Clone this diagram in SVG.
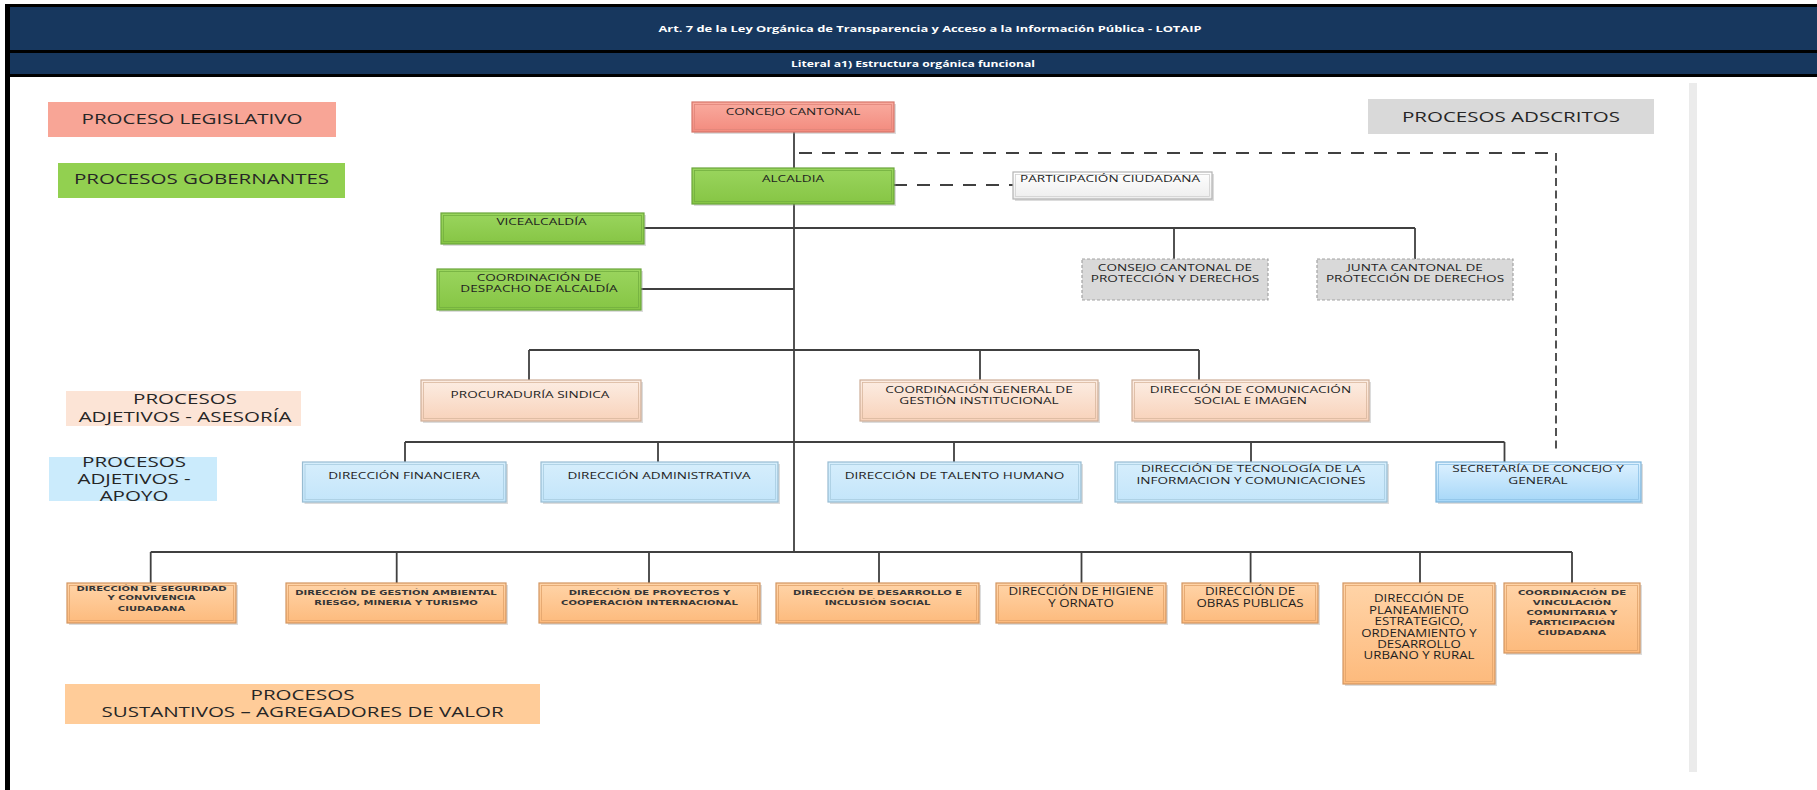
<svg xmlns="http://www.w3.org/2000/svg" width="1817" height="790" viewBox="0 0 1817 790">
<defs>
<linearGradient id="gS" x1="0" y1="0" x2="0" y2="1"><stop offset="0" stop-color="#F9AB9F"/><stop offset="1" stop-color="#F38B7E"/></linearGradient>
<linearGradient id="gG" x1="0" y1="0" x2="0" y2="1"><stop offset="0" stop-color="#9AD55E"/><stop offset="1" stop-color="#86C544"/></linearGradient>
<linearGradient id="gP" x1="0" y1="0" x2="0" y2="1"><stop offset="0" stop-color="#FCEDE3"/><stop offset="1" stop-color="#F8D2BA"/></linearGradient>
<linearGradient id="gB" x1="0" y1="0" x2="0" y2="1"><stop offset="0" stop-color="#D6EEFC"/><stop offset="1" stop-color="#C3E5FA"/></linearGradient>
<linearGradient id="gB2" x1="0" y1="0" x2="0" y2="1"><stop offset="0" stop-color="#DDF1FF"/><stop offset="1" stop-color="#A6D7F8"/></linearGradient>
<linearGradient id="gO" x1="0" y1="0" x2="0" y2="1"><stop offset="0" stop-color="#FFD4A8"/><stop offset="1" stop-color="#FDBA7C"/></linearGradient>
<linearGradient id="gW" x1="0" y1="0" x2="0" y2="1"><stop offset="0" stop-color="#FFFFFF"/><stop offset="1" stop-color="#EDEDED"/></linearGradient>
</defs>
<style>
.sh{fill:#9a9a9a;opacity:.35}
.o{stroke-width:1.2}
.i{fill:none;stroke-width:.8}
.s .o{fill:url(#gS);stroke:#D6766A}.s .i{stroke:#E0867A}
.gr .o{fill:url(#gG);stroke:#6AA53A}.gr .i{stroke:#73AE40}
.p .o{fill:url(#gP);stroke:#CDAE98}.p .i{stroke:#D9B79F}
.b .o{fill:url(#gB);stroke:#98BCD2}.b .i{stroke:#A9CCE0}
.b2 .o{fill:url(#gB2);stroke:#7DB4DA}.b2 .i{stroke:#8FC3E6}
.or .o{fill:url(#gO);stroke:#D29560}.or .i{stroke:#E2A36C}
.w .o{fill:url(#gW);stroke:#B3B3B3}.w .i{stroke:#D0D0D0}
.dg .o{fill:#D9D9D9;stroke:#A3A3A3;stroke-dasharray:3 2}
.t{font-family:"Open Sans","Liberation Sans",sans-serif;font-size:9.5px;fill:#1F1F1F;text-anchor:middle}
.tb{font-family:"Open Sans","Liberation Sans",sans-serif;font-size:10px;fill:#1F1F1F;text-anchor:middle}
.tv{font-family:"DejaVu Sans","Verdana",sans-serif;font-size:7px;font-weight:bold;fill:#363636;text-anchor:middle}
.tl{font-family:"Open Sans","Liberation Sans",sans-serif;font-size:14px;fill:#262626;text-anchor:middle}
.hd{font-family:"Open Sans","Liberation Sans",sans-serif;font-size:9.5px;font-weight:bold;fill:#FFFFFF;text-anchor:middle}
.ln{fill:none;stroke:#404040;stroke-width:1.8}
.dh{stroke-dasharray:13 10}
.dv{stroke-dasharray:8 4.5}
</style>
<rect x="0" y="0" width="1817" height="790" fill="#FFFFFF"/>
<g id="header">
<rect x="5" y="4" width="1812" height="73" fill="#000000"/>
<rect x="5" y="77" width="5" height="713" fill="#000000"/>
<rect x="10" y="7" width="1807" height="43" fill="#17375E"/>
<rect x="10" y="53" width="1807" height="21" fill="#17375E"/>
<text class="hd" x="930" y="31.5" textLength="543" lengthAdjust="spacingAndGlyphs">Art. 7 de la Ley Orgánica  de Transparencia y Acceso a la Información Pública - LOTAIP</text>
<text class="hd" x="913" y="66.5" textLength="244" lengthAdjust="spacingAndGlyphs">Literal a1) Estructura  orgánica funcional</text>
</g>
<rect id="side-bar" x="1689" y="83" width="8" height="689" fill="#EBEBEB"/>
<g id="legend">
<g id="lg-legislativo"><rect x="48" y="102" width="288" height="35" fill="#F8A596"/><g transform="matrix(1.467 0 0 1 192 0)"><text class="tl" y="124.3">PROCESO LEGISLATIVO</text></g></g>
<g id="lg-gobernantes"><rect x="58" y="163" width="287" height="35" fill="#92D050"/><g transform="matrix(1.467 0 0 1 201.5 0)"><text class="tl" y="184.3">PROCESOS GOBERNANTES</text></g></g>
<g id="lg-adscritos"><rect x="1368" y="99" width="286" height="35" fill="#D9D9D9"/><g transform="matrix(1.467 0 0 1 1511 0)"><text class="tl" y="122.5" fill="#333333">PROCESOS ADSCRITOS</text></g></g>
<g id="lg-asesoria"><rect x="66" y="391" width="235" height="35" fill="#FCE4D6"/><g transform="matrix(1.467 0 0 1 185 0)"><text class="tl" y="404">PROCESOS</text><text class="tl" y="422">ADJETIVOS - ASESORÍA</text></g></g>
<g id="lg-apoyo"><rect x="49" y="457" width="168" height="44" fill="#CBEBFC"/><g transform="matrix(1.467 0 0 1 134 0)"><text class="tl" y="467">PROCESOS</text><text class="tl" y="484.5">ADJETIVOS -</text><text class="tl" y="501.5">APOYO</text></g></g>
<g id="lg-sustantivos"><rect x="65" y="684" width="475" height="40" fill="#FFCC99"/><g transform="matrix(1.467 0 0 1 302.5 0)"><text class="tl" y="700">PROCESOS</text><text class="tl" y="717">SUSTANTIVOS – AGREGADORES DE VALOR</text></g></g>
</g>
<g id="connectors">
<path class="ln" d="M794 132V168M794 204V552"/>
<path class="ln" d="M644 228H1415M1174 228V259M1415 228V259"/>
<path class="ln" d="M641 289H794"/>
<path class="ln" d="M529 350H1199M529 350V380M980 350V380M1199 350V380"/>
<path class="ln" d="M405 442H1504.5M405 442V462M658 442V462M954 442V462M1251 442V462M1504.5 442V462"/>
<path class="ln" d="M150.7 552H1572M150.7 552V583M396.7 552V583M649 552V583M879 552V583M1081.5 552V583M1250.6 552V583M1420 552V583M1572 552V583"/>
<path class="ln dh" d="M799 153H1556"/>
<path class="ln dv" d="M1556 153V453"/>
<path class="ln dh" d="M894 185H1013"/>
</g>
<g id="nodes">
<g id="n-concejo" class="s"><rect class="sh" x="694" y="104" width="202" height="30"/><rect class="o" x="692" y="102" width="202" height="30"/><rect class="i" x="694.5" y="104.5" width="197" height="25"/><g transform="matrix(1.43 0 0 1 793 0)"><text class="t" y="115">CONCEJO CANTONAL</text></g></g>
<g id="n-alcaldia" class="gr"><rect class="sh" x="694" y="170" width="202" height="36"/><rect class="o" x="692" y="168" width="202" height="36"/><rect class="i" x="694.5" y="170.5" width="197" height="31"/><g transform="matrix(1.43 0 0 1 793 0)"><text class="t" y="182.5">ALCALDIA</text></g></g>
<g id="n-participacion" class="w"><rect class="sh" x="1015" y="174" width="199" height="27"/><rect class="o" x="1013" y="172" width="199" height="27"/><rect class="i" x="1015.5" y="174.5" width="194" height="22"/><g transform="matrix(1.43 0 0 1 1020 0)"><text class="t" y="182.5" style="text-anchor:start">PARTICIPACIÓN CIUDADANA</text></g></g>
<g id="n-vicealcaldia" class="gr"><rect class="sh" x="443" y="215" width="203" height="31"/><rect class="o" x="441" y="213" width="203" height="31"/><rect class="i" x="443.5" y="215.5" width="198" height="26"/><g transform="matrix(1.43 0 0 1 541.5 0)"><text class="t" y="225">VICEALCALDÍA</text></g></g>
<g id="n-despacho" class="gr"><rect class="sh" x="439" y="271" width="204" height="41"/><rect class="o" x="437" y="269" width="204" height="41"/><rect class="i" x="439.5" y="271.5" width="199" height="36"/><g transform="matrix(1.43 0 0 1 539 0)"><text class="t" y="280.7">COORDINACIÓN DE</text><text class="t" y="291.7">DESPACHO DE ALCALDÍA</text></g></g>
<g id="n-consejo-proteccion" class="dg"><rect class="o" x="1082" y="259" width="186" height="41"/><g transform="matrix(1.43 0 0 1 1175 0)"><text class="t" y="271">CONSEJO CANTONAL DE</text><text class="t" y="282.4">PROTECCIÓN Y DERECHOS</text></g></g>
<g id="n-junta" class="dg"><rect class="o" x="1317" y="259" width="196" height="41"/><g transform="matrix(1.43 0 0 1 1415 0)"><text class="t" y="271">JUNTA CANTONAL DE</text><text class="t" y="282.4">PROTECCIÓN DE DERECHOS</text></g></g>
<g id="n-procuraduria" class="p"><rect class="sh" x="423" y="382" width="220" height="41"/><rect class="o" x="421" y="380" width="220" height="41"/><rect class="i" x="423.5" y="382.5" width="215" height="36"/><g transform="matrix(1.43 0 0 1 530 0)"><text class="t" y="398.4">PROCURADURÍA SINDICA</text></g></g>
<g id="n-coord-general" class="p"><rect class="sh" x="862" y="382" width="238" height="41"/><rect class="o" x="860" y="380" width="238" height="41"/><rect class="i" x="862.5" y="382.5" width="233" height="36"/><g transform="matrix(1.43 0 0 1 979 0)"><text class="t" y="392.7">COORDINACIÓN GENERAL DE</text><text class="t" y="404.1">GESTIÓN INSTITUCIONAL</text></g></g>
<g id="n-comunicacion" class="p"><rect class="sh" x="1134" y="382" width="237" height="41"/><rect class="o" x="1132" y="380" width="237" height="41"/><rect class="i" x="1134.5" y="382.5" width="232" height="36"/><g transform="matrix(1.43 0 0 1 1250.5 0)"><text class="t" y="392.7">DIRECCIÓN DE COMUNICACIÓN</text><text class="t" y="404.1">SOCIAL E IMAGEN</text></g></g>
<g id="n-financiera" class="b"><rect class="sh" x="304.5" y="464" width="203.5" height="40"/><rect class="o" x="302.5" y="462" width="203.5" height="40"/><rect class="i" x="305" y="464.5" width="198.5" height="35"/><g transform="matrix(1.43 0 0 1 404 0)"><text class="t" y="479.1">DIRECCIÓN FINANCIERA</text></g></g>
<g id="n-administrativa" class="b"><rect class="sh" x="543" y="464" width="237" height="40"/><rect class="o" x="541" y="462" width="237" height="40"/><rect class="i" x="543.5" y="464.5" width="232" height="35"/><g transform="matrix(1.43 0 0 1 659 0)"><text class="t" y="479.1">DIRECCIÓN ADMINISTRATIVA</text></g></g>
<g id="n-talento" class="b"><rect class="sh" x="830" y="464" width="253" height="40"/><rect class="o" x="828" y="462" width="253" height="40"/><rect class="i" x="830.5" y="464.5" width="248" height="35"/><g transform="matrix(1.43 0 0 1 954.5 0)"><text class="t" y="479.1">DIRECCIÓN DE TALENTO HUMANO</text></g></g>
<g id="n-tecnologia" class="b"><rect class="sh" x="1117" y="464" width="272" height="40"/><rect class="o" x="1115" y="462" width="272" height="40"/><rect class="i" x="1117.5" y="464.5" width="267" height="35"/><g transform="matrix(1.43 0 0 1 1251 0)"><text class="t" y="472.4">DIRECCIÓN DE TECNOLOGÍA DE LA</text><text class="t" y="484.4">INFORMACION Y COMUNICACIONES</text></g></g>
<g id="n-secretaria" class="b2"><rect class="sh" x="1438" y="464" width="205" height="40"/><rect class="o" x="1436" y="462" width="205" height="40"/><rect class="i" x="1438.5" y="464.5" width="200" height="35"/><g transform="matrix(1.43 0 0 1 1538 0)"><text class="t" y="472.4">SECRETARÍA DE CONCEJO Y</text><text class="t" y="484.4">GENERAL</text></g></g>
<g id="n-seguridad" class="or"><rect class="sh" x="69" y="585" width="169" height="40"/><rect class="o" x="67" y="583" width="169" height="40"/><rect class="i" x="69.5" y="585.5" width="164" height="35"/><g transform="matrix(1.43 0 0 1 151.5 0)"><text class="tv" y="591.2">DIRECCIÓN DE SEGURIDAD</text><text class="tv" y="600.5">Y CONVIVENCIA</text><text class="tv" y="610.8">CIUDADANA</text></g></g>
<g id="n-gestion-ambiental" class="or"><rect class="sh" x="288" y="585" width="220" height="40"/><rect class="o" x="286" y="583" width="220" height="40"/><rect class="i" x="288.5" y="585.5" width="215" height="35"/><g transform="matrix(1.43 0 0 1 396 0)"><text class="tv" y="595.2">DIRECCIÓN DE GESTIÓN AMBIENTAL</text><text class="tv" y="604.8">RIESGO, MINERIA Y TURISMO</text></g></g>
<g id="n-proyectos" class="or"><rect class="sh" x="541" y="585" width="221" height="40"/><rect class="o" x="539" y="583" width="221" height="40"/><rect class="i" x="541.5" y="585.5" width="216" height="35"/><g transform="matrix(1.43 0 0 1 649.5 0)"><text class="tv" y="595.2">DIRECCIÓN DE PROYECTOS Y</text><text class="tv" y="604.8">COOPERACIÓN INTERNACIONAL</text></g></g>
<g id="n-desarrollo" class="or"><rect class="sh" x="778" y="585" width="203" height="40"/><rect class="o" x="776" y="583" width="203" height="40"/><rect class="i" x="778.5" y="585.5" width="198" height="35"/><g transform="matrix(1.43 0 0 1 877.5 0)"><text class="tv" y="595.5">DIRECCIÓN DE DESARROLLO E</text><text class="tv" y="605.2">INCLUSIÓN SOCIAL</text></g></g>
<g id="n-higiene" class="or"><rect class="sh" x="998" y="585" width="170" height="40"/><rect class="o" x="996" y="583" width="170" height="40"/><rect class="i" x="998.5" y="585.5" width="165" height="35"/><g transform="matrix(1.33 0 0 1 1081 0)"><text class="tb" y="595.2">DIRECCIÓN DE HIGIENE</text><text class="tb" y="606.6">Y ORNATO</text></g></g>
<g id="n-obras" class="or"><rect class="sh" x="1184" y="585" width="136" height="40"/><rect class="o" x="1182" y="583" width="136" height="40"/><rect class="i" x="1184.5" y="585.5" width="131" height="35"/><g transform="matrix(1.33 0 0 1 1250 0)"><text class="tb" y="595.2">DIRECCIÓN DE</text><text class="tb" y="606.6">OBRAS PUBLICAS</text></g></g>
<g id="n-planeamiento" class="or"><rect class="sh" x="1345" y="585" width="152" height="101"/><rect class="o" x="1343" y="583" width="152" height="101"/><rect class="i" x="1345.5" y="585.5" width="147" height="96"/><g transform="matrix(1.33 0 0 1 1419 0)"><text class="tb" y="602.4">DIRECCIÓN DE</text><text class="tb" y="613.7">PLANEAMIENTO</text><text class="tb" y="625">ESTRATEGICO,</text><text class="tb" y="636.7">ORDENAMIENTO Y</text><text class="tb" y="648">DESARROLLO</text><text class="tb" y="659.4">URBANO Y RURAL</text></g></g>
<g id="n-vinculacion" class="or"><rect class="sh" x="1506" y="585" width="136" height="70"/><rect class="o" x="1504" y="583" width="136" height="70"/><rect class="i" x="1506.5" y="585.5" width="131" height="65"/><g transform="matrix(1.45 0 0 1 1572 0)"><text class="tv" y="595.2">COORDINACIÓN DE</text><text class="tv" y="605.5">VINCULACIÓN</text><text class="tv" y="615.2">COMUNITARIA Y</text><text class="tv" y="625.2">PARTICIPACIÓN</text><text class="tv" y="635.5">CIUDADANA</text></g></g>
</g>
</svg>
